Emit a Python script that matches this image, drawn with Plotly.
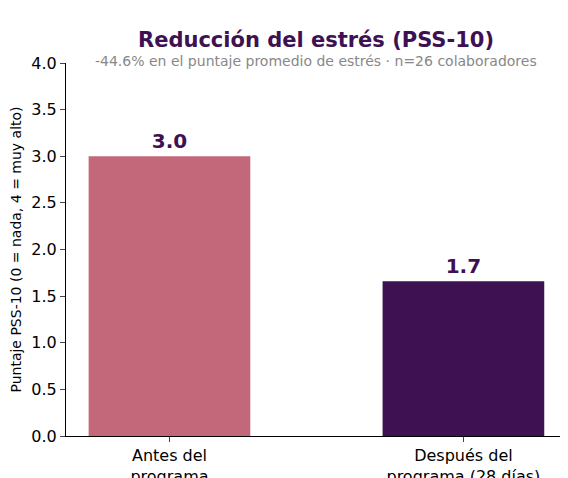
import plotly.graph_objects as go

categories = ["Antes del<br>programa", "Después del<br>programa (28 días)"]
values = [3.0, 1.66]
labels = ["3.0", "1.7"]
colors = ["#C3677A", "#3D1152"]

fig = go.Figure(go.Bar(
    x=[0, 1], y=values, width=0.55, marker_color=colors, marker_line_width=0,
    text=labels, textposition="outside", cliponaxis=False,
    textfont=dict(size=20, color="#3D1152", family="DejaVu Sans"),
))
fig.update_traces(texttemplate="<b>%{text}</b>")
fig.update_layout(
    width=568, height=478, plot_bgcolor="white", paper_bgcolor="white",
    margin=dict(l=58, r=10, t=55, b=50), showlegend=False,
    font=dict(family="DejaVu Sans", color="black"),
    annotations=[
        dict(text="<b>Reducción del estrés (PSS-10)</b>", xref="paper", yref="paper",
             x=0.5, y=1, yshift=37, showarrow=False, font=dict(size=21, color="#3D1152")),
        dict(text="-44.6% en el puntaje promedio de estrés · n=26 colaboradores", xref="paper", yref="paper",
             x=0.5, y=1, yshift=12, showarrow=False, font=dict(size=14, color="#888888")),
    ],
)
fig.update_xaxes(range=[-0.352, 1.349], tickvals=[0, 1], ticktext=categories, automargin=False,
                 showline=True, linecolor="black", ticks="outside", tickfont=dict(size=16),
                 showgrid=False, zeroline=False)
fig.update_yaxes(range=[0, 4], dtick=0.5, tickformat=".1f", showline=True, linecolor="black",
                 ticks="outside", tickfont=dict(size=16), showgrid=False, zeroline=False, automargin=False,
                 title=dict(text="Puntaje PSS-10 (0 = nada, 4 = muy alto)", font=dict(size=14), standoff=8))
fig.write_html("out.html")
